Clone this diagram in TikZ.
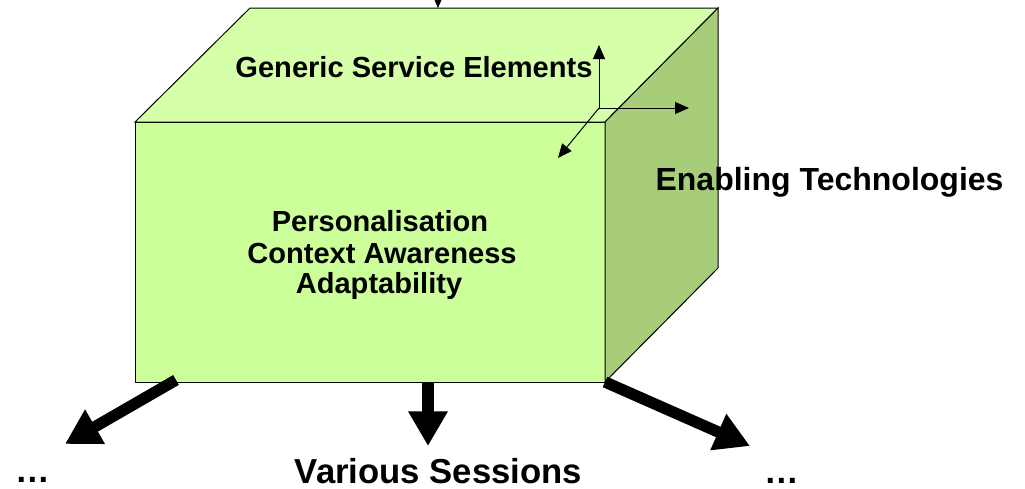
\documentclass[tikz,border=0pt]{standalone}
\usepackage{fontspec}
\setmainfont{Liberation Sans}
\usetikzlibrary{arrows.meta}
\definecolor{frontgreen}{RGB}{204,255,153}
\definecolor{topgreen}{RGB}{214,255,170}
\definecolor{sidegreen}{RGB}{168,205,122}
\tikzset{
  facetext/.style={font=\bfseries\fontsize{21.8}{24}\selectfont, anchor=base, inner sep=0pt},
  sidetext/.style={font=\bfseries\fontsize{24}{26}\selectfont, anchor=base, inner sep=0pt},
  floortext/.style={font=\bfseries\fontsize{26}{28}\selectfont, anchor=base, inner sep=0pt},
  axis/.style={-{Triangle[length=10.5pt,width=9pt]}, line width=0.75pt},
  session/.style={-{Triangle[length=26pt,width=28pt]}, line width=8.5pt},
}
\begin{document}
\begin{tikzpicture}[x=0.75pt,y=-0.75pt]
  \useasboundingbox (0,0) rectangle (1025,489);
  % Corners of the box
  \coordinate (ftl) at (135,122);
  \coordinate (ftr) at (605,122);
  \coordinate (fbl) at (135,382);
  \coordinate (fbr) at (605,382);
  \coordinate (btl) at (250,8);
  \coordinate (btr) at (718,8);
  \coordinate (bbr) at (718,268);
  % Faces
  \filldraw[fill=frontgreen, line width=0.75pt] (ftl) rectangle (fbr);
  \filldraw[fill=topgreen, line width=0.75pt] (ftl) -- (btl) -- (btr) -- (ftr) -- cycle;
  \filldraw[fill=sidegreen, line width=0.75pt] (ftr) -- (btr) -- (bbr) -- (fbr) -- cycle;
  % Input from above
  \coordinate (feed) at (438,-40);
  \coordinate (feedtip) at (438,8);
  \draw[axis] (feed) -- (feedtip);
  % Small axes
  \coordinate (orig) at (599,108);
  \coordinate (up) at (599,45);
  \coordinate (right) at (689,108);
  \coordinate (depth) at (558,158);
  \draw[axis] (orig) -- (up);
  \draw[axis] (orig) -- (right);
  \draw[axis] (orig) -- (depth);
  % Texts
  \node[facetext] (generic) at (414,77) {Generic Service Elements};
  \node[facetext] (pers) at (380,231) {Personalisation};
  \node[facetext] (ctx) at (382,263) {Context Awareness};
  \node[facetext] (adapt) at (379,293) {Adaptability};
  \node[sidetext] (enabling) at (829.5,190) {Enabling Technologies};
  % Sessions
  \coordinate (outl) at (176,380);
  \coordinate (outm) at (428,383);
  \coordinate (tipl) at (65,444);
  \coordinate (tipm) at (428,446);
  \coordinate (tipr) at (750,446);
  \draw[session] (outl) -- (tipl);
  \draw[session] (outm) -- (tipm);
  \draw[session] (fbr) -- (tipr);
  \node[floortext] (various) at (438.5,483) {Various Sessions};
  \node[floortext] (dotsl) at (32.5,482) {…};
  \node[floortext] (dotsr) at (781.5,483) {…};
\end{tikzpicture}
\end{document}
